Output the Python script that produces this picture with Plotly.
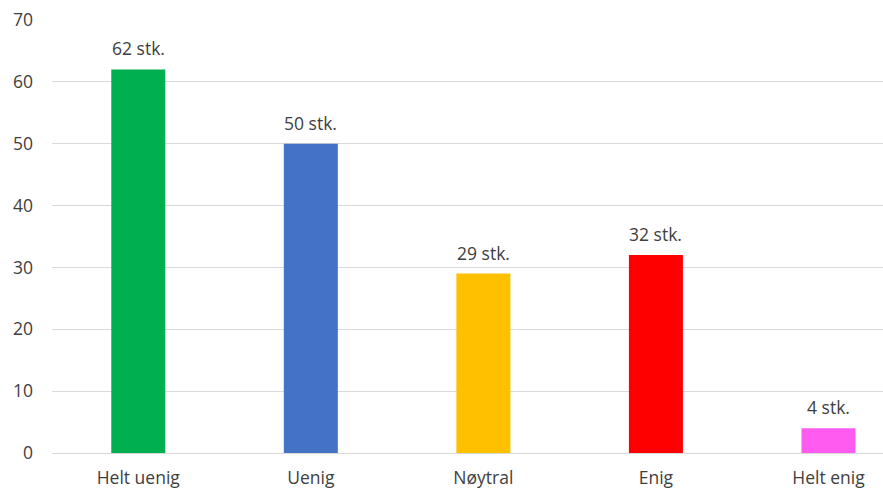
import plotly.graph_objects as go

categories = ["Helt uenig", "Uenig", "Nøytral", "Enig", "Helt enig"]
values = [62, 50, 29, 32, 4]
labels = ["62 stk.", "50 stk.", "29 stk.", "32 stk.", "4 stk."]
colors = ["#00B050", "#4472C4", "#FFC000", "#FF0000", "#FF5BF1"]
tick_vals = [0, 10, 20, 30, 40, 50, 60, 70]

FONT = "Open Sans, Liberation Sans, sans-serif"
TXT = "#404040"

fig = go.Figure()
fig.add_trace(go.Bar(
    x=list(range(len(categories))), y=values,
    marker=dict(color=colors, line=dict(width=0)),
    width=0.313, hoverinfo="skip",
))
for i, (v, t) in enumerate(zip(values, labels)):
    fig.add_annotation(x=i, y=v, text=t, showarrow=False, yanchor="bottom",
                       yshift=7, font=dict(family=FONT, size=17.5, color=TXT))

fig.update_layout(
    width=883, height=493,
    margin=dict(l=52, r=0, t=20, b=40),
    paper_bgcolor="white", plot_bgcolor="white",
    showlegend=False,
    font=dict(family=FONT, size=17.5, color=TXT),
    xaxis=dict(range=[-0.5, 4.316], tickmode="array",
               tickvals=list(range(len(categories))), ticktext=categories,
               showgrid=False, zeroline=False, showline=False, ticks="",
               ticklabelstandoff=12,
               tickfont=dict(family=FONT, size=17.5, color=TXT)),
    yaxis=dict(range=[0, 70], tickmode="array", tickvals=tick_vals,
               showgrid=True, gridcolor="#D9D9D9", gridwidth=1,
               zeroline=True, zerolinecolor="#D9D9D9", zerolinewidth=1,
               showline=False, ticks="", ticklabelstandoff=18,
               tickfont=dict(family=FONT, size=17.5, color=TXT)),
)
fig.write_html("out.html")
